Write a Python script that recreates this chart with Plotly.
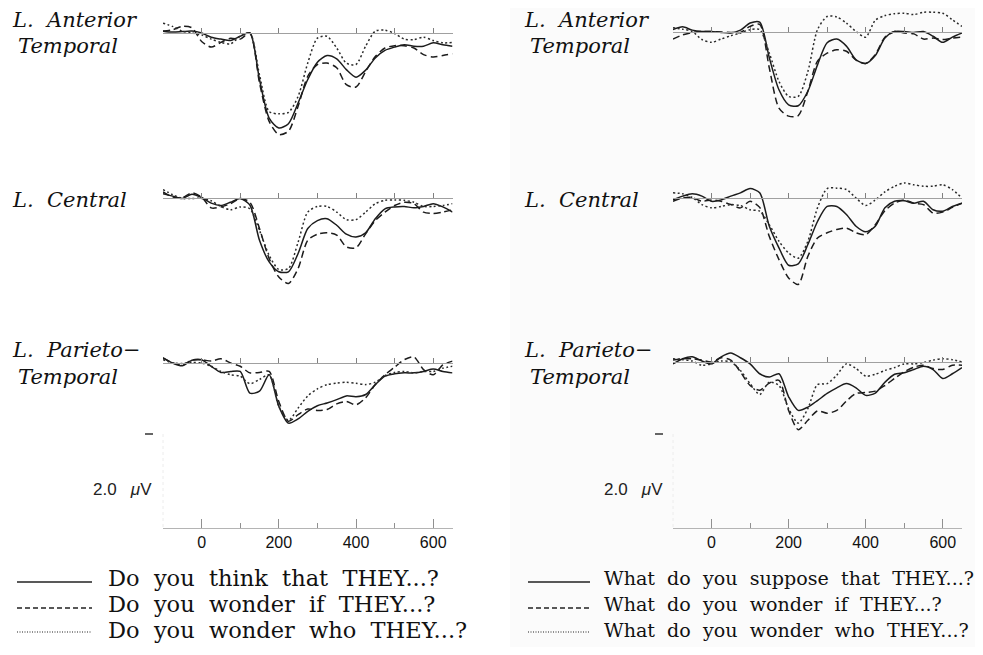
import plotly.graph_objects as go

# ---------------- data (microvolts, positive plotted downward) ----------------
time_ms = [-100, -75, -50, -25, 0, 25, 50, 75, 100, 125, 150, 175, 200, 225, 250,
           275, 300, 325, 350, 375, 400, 425, 450, 475, 500, 525, 550, 575, 600, 625, 650]

# Left column: yes/no questions
yn_ant_that = [-0.04, -0.02, -0.03, -0.04, 0.0, 0.09, 0.13, 0.16, 0.07, 0.0, 0.99, 1.81, 2.02, 1.93, 1.49, 0.99,
               0.62, 0.48, 0.55, 0.78, 0.94, 0.79, 0.53, 0.37, 0.30, 0.25, 0.28, 0.28, 0.21, 0.25, 0.28]
yn_ant_if = [-0.04, -0.07, -0.14, -0.11, 0.18, 0.30, 0.20, 0.11, 0.13, 0.0, 1.06, 1.88, 2.16, 2.09, 1.56, 0.92,
             0.67, 0.64, 0.74, 1.10, 1.15, 0.82, 0.50, 0.32, 0.27, 0.27, 0.32, 0.46, 0.51, 0.48, 0.44]
yn_ant_who = [-0.21, -0.14, -0.04, 0.0, 0.04, 0.13, 0.20, 0.23, 0.07, 0.0, 0.89, 1.67, 1.72, 1.69, 1.35, 0.64,
              0.11, 0.07, 0.32, 0.64, 0.67, 0.28, -0.04, -0.06, 0.01, 0.13, 0.14, 0.09, 0.16, 0.21, 0.20]

yn_cen_that = [-0.09, -0.04, 0.01, -0.08, -0.01, 0.11, 0.16, 0.09, 0.01, 0.15, 0.90, 1.36, 1.57, 1.57, 1.18, 0.65,
               0.48, 0.44, 0.58, 0.77, 0.83, 0.74, 0.44, 0.23, 0.19, 0.18, 0.21, 0.18, 0.12, 0.19, 0.30]
yn_cen_if = [-0.13, -0.02, -0.01, -0.11, -0.02, 0.21, 0.19, 0.12, 0.01, 0.09, 0.65, 1.29, 1.68, 1.82, 1.50, 0.90,
             0.77, 0.74, 0.79, 1.04, 1.06, 0.76, 0.48, 0.30, 0.16, 0.09, 0.12, 0.30, 0.33, 0.30, 0.25]
yn_cen_who = [-0.18, -0.07, 0.01, 0.01, 0.01, 0.06, 0.18, 0.25, 0.19, 0.23, 0.69, 1.22, 1.52, 1.50, 0.94, 0.30,
              0.18, 0.18, 0.30, 0.46, 0.46, 0.30, 0.12, 0.05, 0.04, 0.05, 0.09, 0.18, 0.18, 0.16, 0.12]

yn_par_that = [-0.11, 0.0, 0.06, -0.06, -0.07, 0.07, 0.20, 0.18, 0.18, 0.64, 0.60, 0.25, 0.92, 1.28, 1.19, 1.03,
               0.91, 0.85, 0.78, 0.70, 0.72, 0.67, 0.46, 0.28, 0.23, 0.21, 0.21, 0.18, 0.13, 0.18, 0.21]
yn_par_if = [-0.11, 0.0, 0.04, -0.06, -0.07, -0.04, -0.09, 0.0, 0.07, 0.21, 0.20, 0.18, 0.82, 1.24, 1.10, 0.98,
             1.01, 0.99, 0.87, 0.82, 0.89, 0.74, 0.46, 0.25, 0.09, -0.07, -0.13, 0.14, 0.25, 0.04, -0.04]
yn_par_who = [-0.07, 0.0, 0.01, -0.01, 0.0, 0.07, 0.18, 0.25, 0.28, 0.44, 0.35, 0.25, 0.92, 1.22, 0.96, 0.70,
              0.55, 0.46, 0.43, 0.41, 0.43, 0.46, 0.41, 0.27, 0.20, 0.18, 0.21, 0.18, 0.18, 0.11, 0.07]

# Right column: wh- questions
wh_ant_that = [-0.05, -0.11, -0.04, -0.01, -0.01, 0.01, 0.02, -0.04, -0.19, -0.21, 0.55, 1.23, 1.55, 1.57, 1.26, 0.70,
               0.23, 0.15, 0.30, 0.59, 0.67, 0.50, 0.13, -0.01, -0.01, 0.01, -0.01, 0.09, 0.22, 0.11, 0.02]
wh_ant_if = [0.15, 0.06, 0.01, -0.01, -0.01, 0.0, 0.01, 0.01, -0.12, -0.16, 0.77, 1.62, 1.79, 1.78, 1.26, 0.62,
             0.45, 0.38, 0.41, 0.60, 0.67, 0.48, 0.11, -0.01, 0.02, 0.04, 0.15, 0.13, 0.16, 0.13, 0.11]
wh_ant_who = [-0.09, -0.06, -0.01, 0.16, 0.22, 0.15, 0.08, 0.02, -0.05, -0.05, 0.45, 1.05, 1.37, 1.37, 0.84, -0.05,
              -0.33, -0.32, -0.19, -0.01, 0.11, -0.25, -0.35, -0.39, -0.40, -0.37, -0.42, -0.42, -0.40, -0.26, -0.12]

wh_cen_that = [0.04, -0.04, -0.09, -0.04, 0.07, 0.04, -0.04, -0.11, -0.20, -0.11, 0.60, 1.06, 1.43, 1.40, 0.99, 0.50,
               0.18, 0.18, 0.35, 0.60, 0.72, 0.60, 0.21, 0.07, 0.06, 0.11, 0.07, 0.25, 0.28, 0.18, 0.11]
wh_cen_if = [0.07, 0.0, -0.01, 0.07, 0.04, 0.07, 0.14, 0.21, 0.07, 0.20, 0.82, 1.31, 1.70, 1.84, 1.24, 0.85,
             0.74, 0.67, 0.64, 0.74, 0.78, 0.57, 0.27, 0.11, 0.04, 0.11, 0.14, 0.32, 0.30, 0.20, 0.11]
wh_cen_who = [-0.11, -0.09, -0.01, 0.14, 0.21, 0.18, 0.14, 0.16, 0.25, 0.28, 0.57, 0.92, 1.17, 1.28, 0.92, 0.21,
              -0.20, -0.21, -0.18, 0.0, 0.16, 0.04, -0.13, -0.25, -0.32, -0.28, -0.25, -0.25, -0.28, -0.18, 0.0]

wh_par_that = [0.04, -0.07, -0.11, -0.02, 0.04, -0.11, -0.19, -0.09, 0.04, 0.25, 0.32, 0.25, 0.74, 1.03, 0.96, 0.82,
               0.67, 0.55, 0.46, 0.55, 0.71, 0.66, 0.43, 0.26, 0.23, 0.16, 0.09, 0.16, 0.35, 0.25, 0.12]
wh_par_if = [-0.04, -0.07, -0.07, -0.04, 0.0, -0.09, -0.04, 0.21, 0.50, 0.60, 0.45, 0.39, 1.03, 1.44, 1.24, 1.04,
             1.09, 1.03, 0.83, 0.67, 0.65, 0.62, 0.50, 0.35, 0.21, 0.11, 0.07, 0.14, 0.16, 0.07, 0.07]
wh_par_who = [-0.07, -0.05, -0.02, 0.07, 0.04, -0.02, 0.0, 0.18, 0.46, 0.69, 0.43, 0.50, 0.99, 1.30, 0.99, 0.48,
              0.46, 0.28, 0.04, 0.14, 0.30, 0.26, 0.18, 0.12, 0.04, 0.04, 0.01, -0.04, -0.07, -0.05, 0.0]

region_labels = [["L. Anterior", "Temporal"], ["L. Central"], ["L. Parieto\u2212", "Temporal"]]
yn_legend = ["Do you think that THEY...?", "Do you wonder if THEY...?", "Do you wonder who THEY...?"]
wh_legend = ["What do you suppose that THEY...?", "What do you wonder if THEY...?", "What do you wonder who THEY...?"]
time_ticks = [0, 200, 400, 600]
time_minor = [100, 300, 500]
calib_uv = "2.0"

# ---------------- layout helpers ----------------
# The page body has an 8 px margin, so the figure starts at window pixel (8, 8).
OFF = 8
FW, FH = 967, 639
PX_PER_UV = 47.0


def px(x):
    return (x - OFF) / FW


def py(y):
    return 1 - (y - OFF) / FH


col_x = [(163, 452.5), (673, 962)]
col_base = [[33, 198, 363], [32, 198, 362]]
above, below = 25, 125

styles = [dict(color="#1c1c1c", width=1.5, dash="solid"),
          dict(color="#1c1c1c", width=1.5, dash="7px,4px"),
          dict(color="#2a2a2a", width=1.5, dash="2px,2.5px")]

columns = [
    [[yn_ant_that, yn_ant_if, yn_ant_who], [yn_cen_that, yn_cen_if, yn_cen_who], [yn_par_that, yn_par_if, yn_par_who]],
    [[wh_ant_that, wh_ant_if, wh_ant_who], [wh_cen_that, wh_cen_if, wh_cen_who], [wh_par_that, wh_par_if, wh_par_who]],
]
legends = [yn_legend, wh_legend]

fig = go.Figure()
layout = dict(
    width=FW, height=FH, margin=dict(l=0, r=0, t=0, b=0),
    paper_bgcolor="white", plot_bgcolor="rgba(0,0,0,0)", showlegend=False,
)

shapes = [dict(type="rect", xref="paper", yref="paper", x0=px(510), x1=1, y0=0, y1=1,
               fillcolor="#fbfbfb", line=dict(width=0), layer="below")]
annotations = []

label_font = dict(family="DejaVu Serif", size=21, color="#111")
idx = 0
for c in range(2):
    for r in range(3):
        idx += 1
        b = col_base[c][r]
        top_px = max(b - above, OFF)
        xa = "xaxis" if idx == 1 else f"xaxis{idx}"
        ya = "yaxis" if idx == 1 else f"yaxis{idx}"
        layout[xa] = dict(domain=[px(col_x[c][0]), px(col_x[c][1])], range=[-100, 650],
                          anchor="free", position=py(b), showline=True, linecolor="#a0a0a0", linewidth=1,
                          ticks="inside", ticklen=5, tickwidth=1, tickcolor="#808080",
                          tickvals=[0, 100, 200, 300, 400, 500, 600], showticklabels=False,
                          showgrid=False, zeroline=False)
        layout[ya] = dict(domain=[py(b + below), py(top_px)],
                          range=[below / PX_PER_UV, -(b - top_px) / PX_PER_UV], visible=False)
        sfx = "" if idx == 1 else str(idx)
        for k in range(3):
            fig.add_trace(go.Scatter(x=time_ms, y=columns[c][r][k], mode="lines",
                                     line=dict(shape="spline", smoothing=0.75, **styles[k]),
                                     xaxis="x" + sfx, yaxis="y" + sfx, hoverinfo="skip"))
        # region labels
        lab = region_labels[r]
        lx = 10 if c == 0 else 522
        if r == 0:
            ys = [20, 46]
        elif r == 1:
            ys = [200]
        else:
            ys = [350, 377]
        for j, (t, yy) in enumerate(zip(lab, ys)):
            annotations.append(dict(x=px(lx + (6 if j == 1 else 0)), y=py(yy), xref="paper", yref="paper",
                                    xanchor="left", yanchor="middle", showarrow=False,
                                    text="<i>" + t.replace(". ", ".\u00a0\u00a0") + "</i>",
                                    font=label_font))

# bottom time axes
for c in range(2):
    idx += 1
    layout[f"xaxis{idx}"] = dict(domain=[px(col_x[c][0]), px(col_x[c][1])], range=[-100, 650],
                                 anchor=f"y{idx}", showline=True, linecolor="#b4b4b4", linewidth=1,
                                 ticks="inside", ticklen=9, tickwidth=1, tickcolor="#909090",
                                 tickvals=time_ticks, ticktext=[str(v) for v in time_ticks],
                                 minor=dict(tickvals=time_minor, ticks="inside", ticklen=5, tickcolor="#909090"),
                                 tickfont=dict(family="Liberation Sans", size=16, color="#111"),
                                 showgrid=False, zeroline=False)
    layout[f"yaxis{idx}"] = dict(domain=[py(528), py(505)], range=[0, 1], visible=False, anchor=f"x{idx}")
    fig.add_trace(go.Scatter(x=[None], y=[None], xaxis=f"x{idx}", yaxis=f"y{idx}", mode="lines",
                             hoverinfo="skip"))

# calibration marks
for cx, tick_x, lbl_x in [(163, 145, 91), (673, 655, 602)]:
    shapes.append(dict(type="line", xref="paper", yref="paper", x0=px(tick_x), x1=px(tick_x + 8),
                       y0=py(434), y1=py(434), line=dict(color="#333", width=1.5)))
    shapes.append(dict(type="line", xref="paper", yref="paper", x0=px(cx), x1=px(cx),
                       y0=py(434), y1=py(528), line=dict(color="#ececec", width=1, dash="dot")))
    annotations.append(dict(x=px(lbl_x), y=py(489), xref="paper", yref="paper", xanchor="left",
                            yanchor="middle", showarrow=False,
                            text=calib_uv + "\u00a0\u00a0\u00a0<i>\u03bc</i>V",
                            font=dict(family="Liberation Sans", size=17, color="#222")))

# custom legends
leg_geo = [dict(x0=17, x1=92, tx=106, size=22.5, gap="\u00a0\u00a0"),
           dict(x0=528, x1=590, tx=602, size=19.1, gap="\u00a0\u00a0")]
line_y = [582, 608, 632]
text_y = [578, 604, 630]
leg_dash = ["solid", "5px,3px", "1px,1.5px"]
for c in range(2):
    g = leg_geo[c]
    for k in range(3):
        shapes.append(dict(type="line", xref="paper", yref="paper", x0=px(g["x0"]), x1=px(g["x1"]),
                           y0=py(line_y[k]), y1=py(line_y[k]),
                           line=dict(color="#222", width=1.4 if k < 2 else 1.2, dash=leg_dash[k])))
        annotations.append(dict(x=px(g["tx"]), y=py(text_y[k]), xref="paper", yref="paper",
                                xanchor="left", yanchor="middle", showarrow=False,
                                text=legends[c][k].replace(" ", g["gap"]),
                                font=dict(family="DejaVu Serif", size=g["size"], color="#111")))

layout["shapes"] = shapes
layout["annotations"] = annotations
fig.update_layout(**layout)
fig.write_html("out.html")
